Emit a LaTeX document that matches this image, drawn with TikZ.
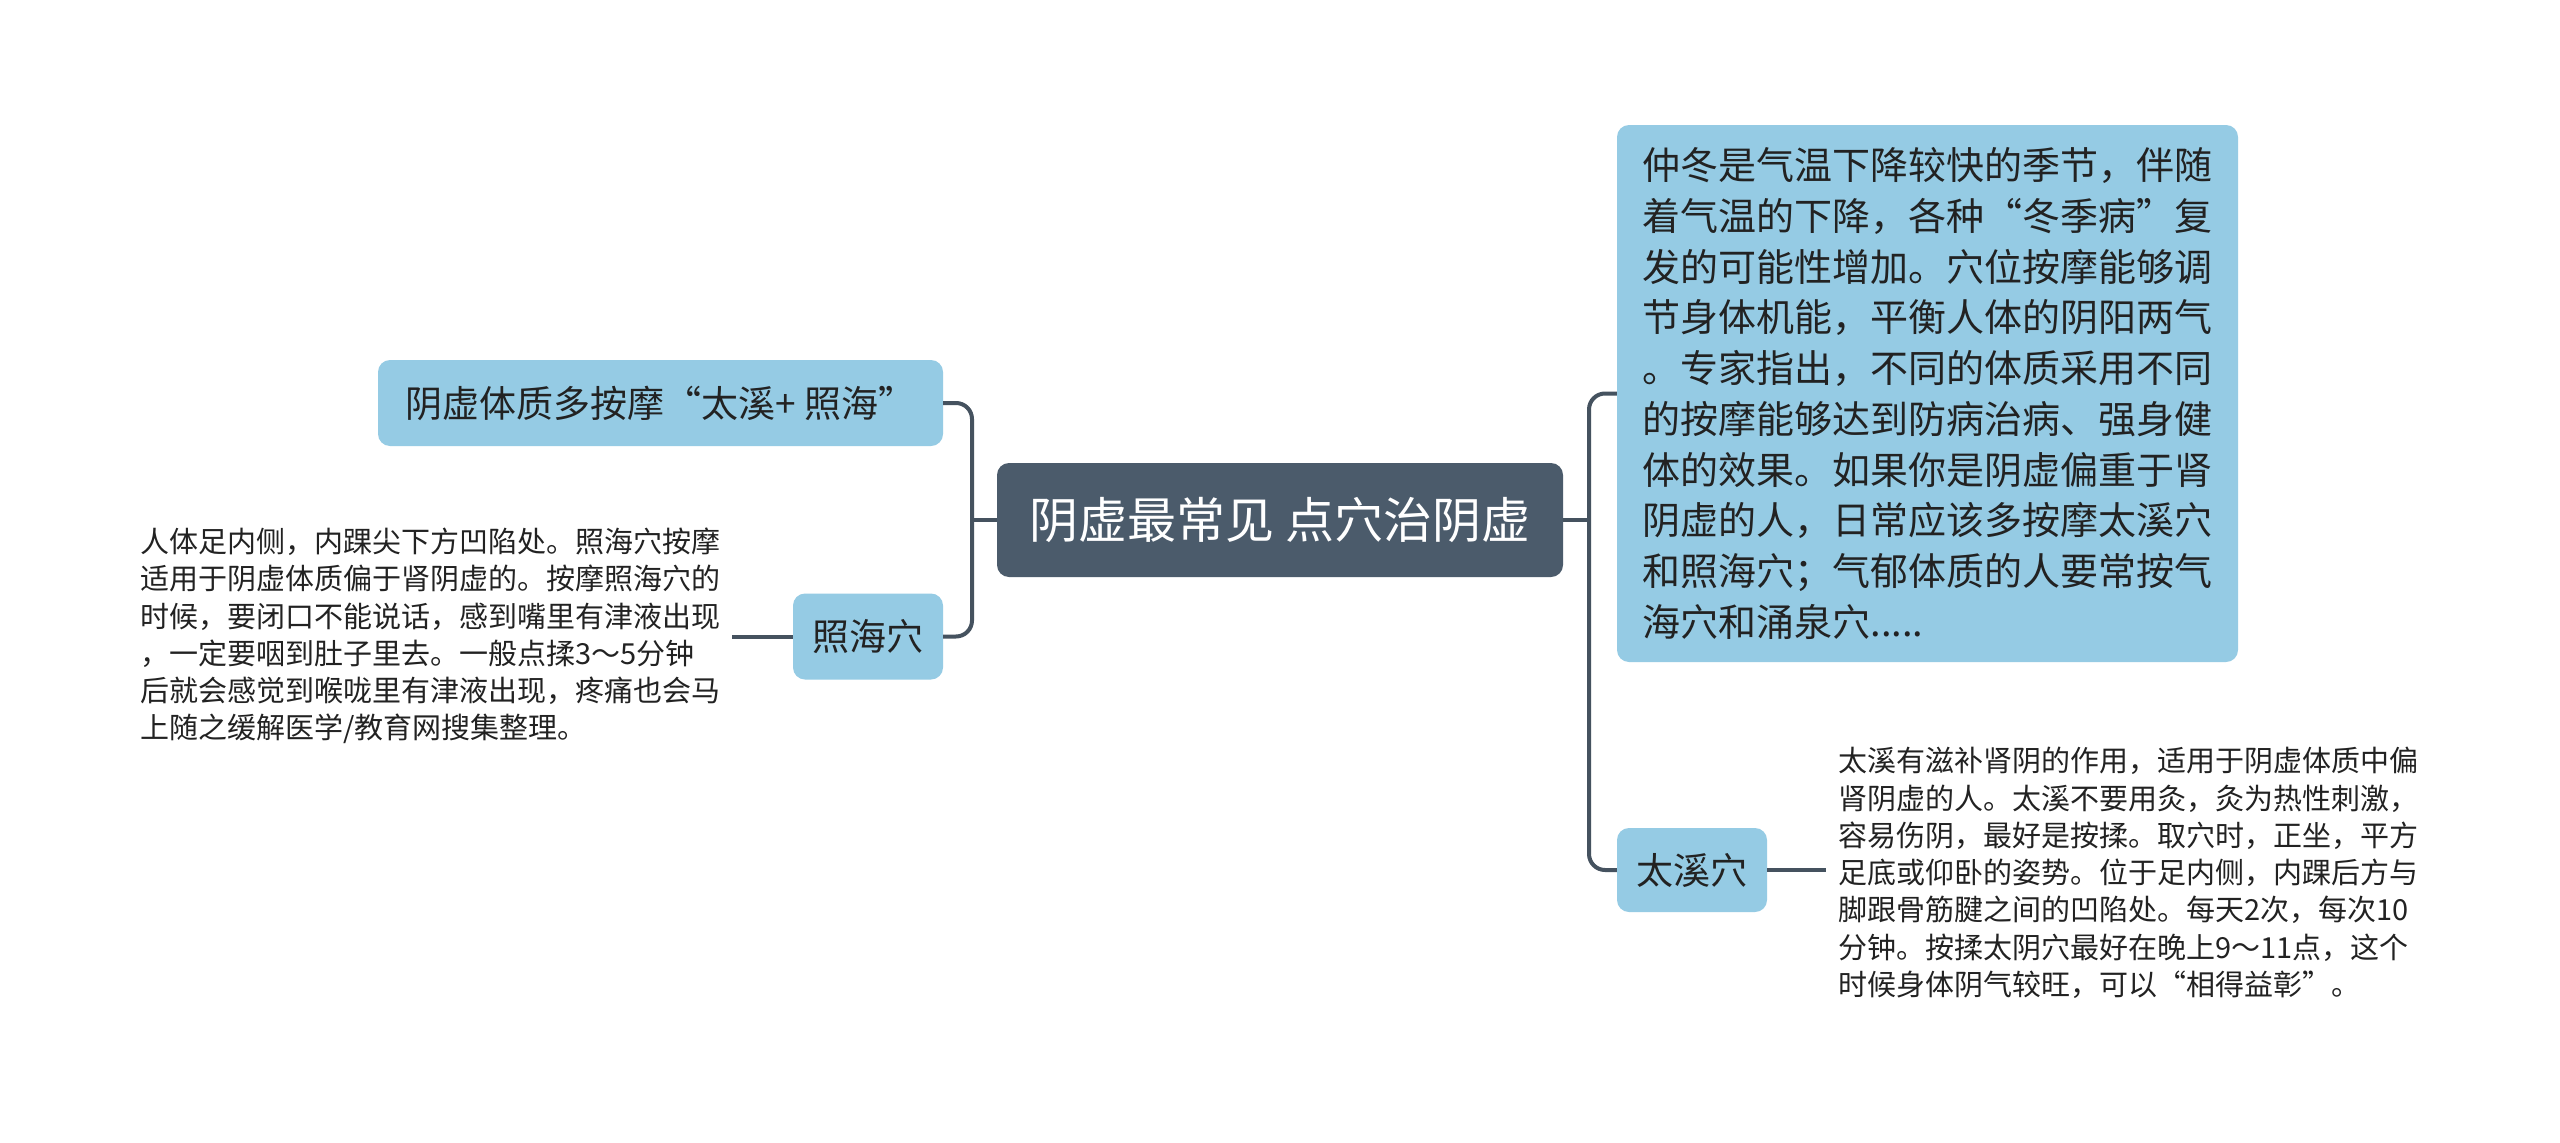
\documentclass[tikz,border=0pt]{standalone}
\usepackage{fontspec}
\setmainfont{Noto Sans CJK SC}
\definecolor{rootfill}{HTML}{4B5B6B}
\definecolor{leaffill}{HTML}{95CBE4}
\definecolor{linkcol}{HTML}{45525F}
\definecolor{inkcol}{HTML}{222222}

\begin{document}
\begin{tikzpicture}[x=1pt,y=-1pt,
  root/.style={fill=rootfill, text=white, rounded corners=12pt,
    minimum width=566pt, minimum height=114pt, font=\fontsize{49}{58}\selectfont},
  topic/.style={fill=leaffill, text=inkcol, rounded corners=12pt,
    minimum height=86pt, font=\fontsize{37}{44}\selectfont},
  note/.style={text=inkcol, align=left, inner xsep=12pt,
    font=\fontsize{29}{37.3}\selectfont},
  link/.style={draw=linkcol, line width=4pt, rounded corners=16pt}]
  \def\lforkx{972}   % x of the left fork
  \def\rforkx{1589}  % x of the right fork

  % page frame
  \fill[white] (0,0) rectangle (2560,1143);
  \useasboundingbox (0,0) rectangle (2560,1143);

  % central topic
  \node[root] (root) at (1280,520) {阴虚最常见 点穴治阴虚};

  % left branch
  \node[topic, minimum width=565pt] (tip) at (660.5,403) {阴虚体质多按摩“太溪+ 照海”};
  \node[topic, minimum width=150pt] (zhaohai) at (868,636.5) {照海穴};
  \node[note, anchor=west] (zhaonote) at (128,636) {人体足内侧，内踝尖下方凹陷处。照海穴按摩\\
    适用于阴虚体质偏于肾阴虚的。按摩照海穴的\\
    时候，要闭口不能说话，感到嘴里有津液出现\\
    ，一定要咽到肚子里去。一般点揉3～5分钟\\
    后就会感觉到喉咙里有津液出现，疼痛也会马\\
    上随之缓解医学/教育网搜集整理。};

  % right branch
  \node[topic, align=left, minimum width=621pt, minimum height=537pt,
    font=\fontsize{38}{50.7}\selectfont] (intro) at (1927.5,393.5)
    {仲冬是气温下降较快的季节，伴随\\
    着气温的下降，各种“冬季病”复\\
    发的可能性增加。穴位按摩能够调\\
    节身体机能，平衡人体的阴阳两气\\
    。专家指出，不同的体质采用不同\\
    的按摩能够达到防病治病、强身健\\
    体的效果。如果你是阴虚偏重于肾\\
    阴虚的人，日常应该多按摩太溪穴\\
    和照海穴；气郁体质的人要常按气\\
    海穴和涌泉穴.....};
  \node[topic, minimum width=150pt, minimum height=84pt] (taixi) at (1692,870) {太溪穴};
  \node[note, anchor=west] (taixinote) at (1826,873) {太溪有滋补肾阴的作用，适用于阴虚体质中偏\\
    肾阴虚的人。太溪不要用灸，灸为热性刺激，\\
    容易伤阴，最好是按揉。取穴时，正坐，平方\\
    足底或仰卧的姿势。位于足内侧，内踝后方与\\
    脚跟骨筋腱之间的凹陷处。每天2次，每次10\\
    分钟。按揉太阴穴最好在晚上9～11点，这个\\
    时候身体阴气较旺，可以“相得益彰”。};

  % forks
  \coordinate (lfork) at (\lforkx,520);
  \coordinate (rfork) at (\rforkx,520);

  % connectors
  \draw[link] (root.west) -- (lfork);
  \draw[link] (tip.east) -| (lfork) |- (zhaohai.east);
  \draw[link] (root.east) -- (rfork);
  \draw[link] (intro.west) -| (rfork) |- (taixi.west);
  \draw[link] (zhaohai.west) -- (zhaohai.west -| zhaonote.east);
  \draw[link] (taixi.east) -- (taixi.east -| taixinote.west);

\end{tikzpicture}
\end{document}
